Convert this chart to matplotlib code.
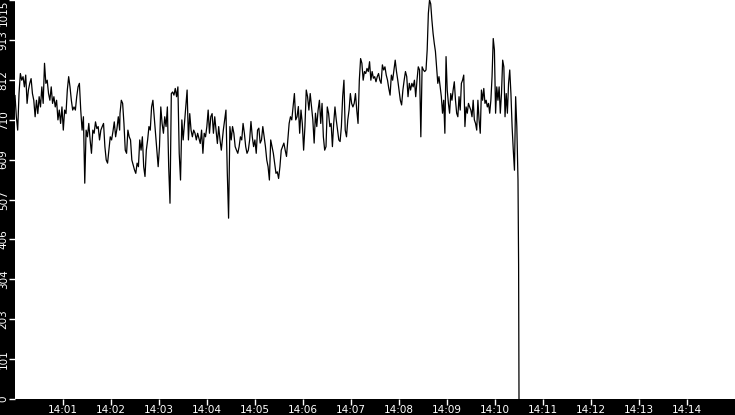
import numpy as np
import pandas as pd
import matplotlib
matplotlib.use("Agg")
import matplotlib.pyplot as plt
import matplotlib.dates as mdates

# readings, split in the five stretches they were read from (seconds after 14:00:00)
seg_start = [0.0, 131.25, 258.75, 388.75, 513.75]
seg_end = [130.8, 257.9, 387.1, 512.1, 628.75]

seg1 = [772, 718, 684, 777, 828, 811, 820, 794, 824, 752,
        786, 803, 815, 777, 760, 718, 760, 726, 769, 743,
        794, 752, 854, 803, 811, 777, 760, 794, 752, 769,
        743, 760, 710, 735, 701, 743, 684, 735, 726, 786,
        820, 794, 760, 735, 743, 735, 769, 794, 803, 735,
        684, 718, 549, 684, 667, 701, 659, 625, 684, 676,
        705, 688, 693, 659, 684, 693, 701, 642, 608, 600,
        633, 667, 659, 680, 705, 667, 688, 718, 684]
seg2 = [726, 760, 752, 701, 633, 625, 684, 667, 659, 608,
        596, 583, 574, 600, 591, 659, 633, 667, 591, 566,
        633, 659, 693, 684, 743, 760, 718, 676, 633, 591,
        642, 743, 701, 676, 718, 693, 743, 591, 498, 777,
        781, 773, 790, 769, 794, 625, 557, 710, 659, 701,
        743, 786, 659, 726, 684, 667, 684, 676, 659, 676,
        663, 650, 684, 625, 676, 667, 693, 735, 676, 718,
        726, 676, 718, 684, 650, 693, 659, 633]
seg3 = [651, 684, 710, 735, 578, 460, 693, 659, 693, 676,
        642, 633, 625, 642, 667, 659, 701, 676, 642, 625,
        633, 659, 706, 667, 642, 659, 625, 684, 689, 651,
        659, 693, 667, 642, 608, 591, 557, 659, 642, 625,
        600, 574, 578, 561, 591, 633, 642, 651, 633, 617,
        659, 701, 718, 710, 744, 777, 710, 718, 744, 676,
        735, 701, 633, 693, 786, 769, 735, 777, 744, 710,
        651, 727, 693, 735, 760, 701, 752, 667, 633]
seg4 = [642, 743, 727, 693, 701, 642, 701, 743, 710, 684,
        659, 655, 693, 769, 811, 684, 667, 710, 735, 777,
        752, 743, 752, 777, 735, 701, 811, 866, 854, 811,
        833, 828, 841, 833, 858, 811, 833, 816, 820, 807,
        820, 828, 811, 803, 850, 837, 845, 824, 811, 790,
        773, 824, 811, 837, 862, 833, 811, 786, 760, 748,
        786, 811, 833, 820, 769, 803, 786, 803, 794, 811,
        769, 811, 845, 837, 667, 845, 837, 833]
seg5 = [837, 888, 981, 1015, 1005, 964, 930, 905, 884, 845,
        803, 820, 794, 769, 727, 760, 676, 871, 786, 752,
        727, 777, 760, 786, 807, 760, 727, 718, 769, 735,
        803, 811, 824, 693, 743, 727, 752, 743, 735, 718,
        760, 710, 701, 684, 760, 710, 676, 786, 760, 790,
        752, 760, 743, 752, 727, 760, 820, 917, 888, 727,
        794, 760, 794, 727, 777, 862, 845, 718, 777, 727,
        803, 837, 777, 693, 633, 582, 769, 693, 557]
tail_secs = [629.5, 630.0]
tail_vals = [341, 0]

y_ticks = [0, 101, 203, 304, 406, 507, 609, 710, 812, 913, 1015]
x_minutes = list(range(1, 15))

segments = [seg1, seg2, seg3, seg4, seg5]
secs = []
vals = []
for s0, s1, seg in zip(seg_start, seg_end, segments):
    secs.extend(np.linspace(s0, s1, len(seg)))
    vals.extend(seg)
secs.extend(tail_secs)
vals.extend(tail_vals)

t0 = pd.Timestamp("2024-01-01 14:00:00")
times = t0 + pd.to_timedelta(secs, unit="s")

fig = plt.figure(figsize=(7.35, 4.15), dpi=100, facecolor="black")
ax = fig.add_axes([15 / 735, 16 / 415, 720 / 735, 399 / 415])
ax.set_facecolor("white")

ax.plot(times, vals, color="black", linewidth=0.9)

ax.set_xlim(t0, t0 + pd.Timedelta(minutes=15))
ax.set_ylim(0, 1015)

ax.set_xticks([t0 + pd.Timedelta(minutes=m) for m in x_minutes])
ax.xaxis.set_major_formatter(mdates.DateFormatter("%H:%M"))

ax.set_yticks(y_ticks)
ax.set_yticklabels([str(v) for v in y_ticks], rotation=90, va="center")
ax.get_yticklabels()[-1].set_va("top")

ax.tick_params(colors="white", labelsize=7.5, width=1, direction="out")
ax.tick_params(axis="y", length=4, pad=0.5)
ax.tick_params(axis="x", length=4, pad=0.3)

for s in ax.spines.values():
    s.set_visible(False)

fig.savefig("out.png", dpi=100, facecolor="black")
